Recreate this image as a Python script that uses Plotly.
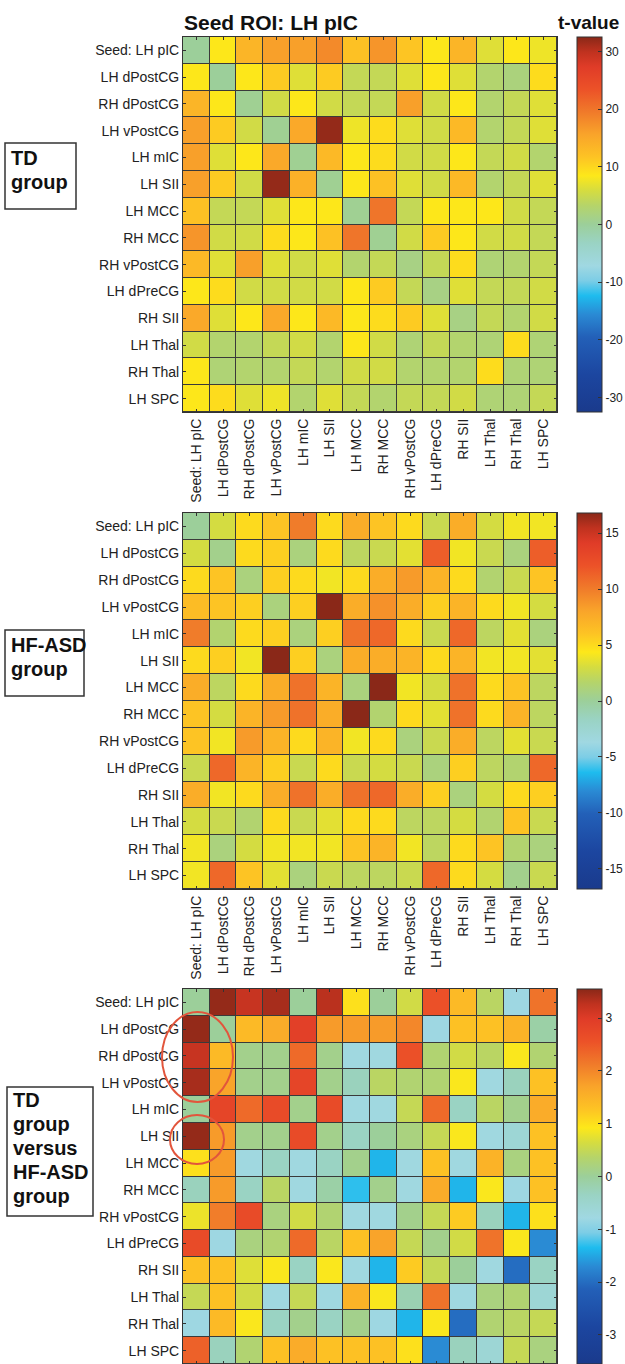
import plotly.graph_objects as go

regions = ["Seed: LH pIC", "LH dPostCG", "RH dPostCG", "LH vPostCG", "LH mIC", "LH SII",
           "LH MCC", "RH MCC", "RH vPostCG", "LH dPreCG", "RH SII", "LH Thal", "RH Thal", "LH SPC"]

td_values = [
    [0, 8.5, 13.5, 16, 16, 18, 12, 17, 11.5, 8.5, 13.5, 6.5, 8.5, 7.5],
    [8.5, 0, 8.5, 11, 6.5, 11, 4.5, 4.5, 6.5, 8.5, 6.5, 3, 2, 9.5],
    [13.5, 8.5, 0.5, 5.5, 8.5, 5.5, 4.5, 4.5, 16, 5.5, 8.5, 3, 4.5, 6.5],
    [16, 11, 5.5, 0.5, 15, 32, 7.5, 9.5, 6.5, 5.5, 13, 3, 4.5, 6.5],
    [16, 6.5, 8.5, 15, 0.5, 13, 8.5, 9.5, 5.5, 5.5, 8.5, 4.5, 5.5, 3],
    [16, 11, 5.5, 32, 14, 0.5, 8.5, 12, 6.5, 5.5, 13, 3, 4.5, 6.5],
    [12, 4.5, 4.5, 6.5, 8.5, 8.5, 0.5, 20, 4.5, 8.5, 8.5, 8.5, 5.5, 4.5],
    [17, 5.5, 5.5, 9.5, 8.5, 12, 20, 0.5, 5.5, 11, 8.5, 5.5, 5.5, 4.5],
    [13, 6.5, 16, 6.5, 5.5, 6.5, 3, 4.5, 1.5, 4.5, 9.5, 2.5, 3, 4.5],
    [8.5, 9.5, 5.5, 5.5, 5.5, 5.5, 8.5, 11, 4.5, 1.5, 6.5, 4.5, 4.5, 5.5],
    [15, 6.5, 8.5, 15, 8.5, 13, 8.5, 9.5, 11, 6.5, 1.5, 4.5, 3, 5.5],
    [5.5, 3, 3, 4.5, 5.5, 3, 8.5, 5.5, 2.5, 4.5, 3, 2.5, 9.5, 2.5],
    [8.5, 2.5, 3, 3, 4.5, 3, 5.5, 5.5, 3, 3, 3, 9.5, 2.5, 2.5],
    [8.5, 9.5, 6.5, 7.5, 3, 6.5, 4.5, 3, 4.5, 4.5, 5.5, 2.5, 2.5, 4.5],
]

asd_values = [
    [0, 3, 5, 6, 10, 5, 7.5, 6, 5, 2.5, 7.5, 3, 4, 4],
    [3, 0.5, 5, 5.5, 1, 5, 2, 2.5, 3.5, 11.5, 4, 2.5, 1, 11.5],
    [5, 6, 1, 5.5, 5, 4, 5, 7.5, 8.5, 7, 5, 1.5, 2.5, 6],
    [6.5, 6, 5.5, 1, 5.5, 17, 7.5, 9, 7.5, 5.5, 7, 5, 4, 3],
    [10, 1.5, 5, 5.5, 1, 5.5, 10.5, 11, 5, 2.5, 11, 2, 3.5, 1],
    [5, 5.5, 4, 17, 5.5, 1, 7.5, 7.5, 7, 5, 7, 4, 4, 3.5],
    [7.5, 2, 5, 7.5, 10.5, 7, 1, 17, 4, 3, 10.5, 5, 6, 2],
    [6, 3, 7, 8.5, 10.5, 7.5, 17, 1.5, 5, 3.5, 10.5, 5, 7, 2],
    [6, 4, 8.5, 7, 5, 7, 4, 5, 1, 2.5, 7.5, 2, 3.5, 2.5],
    [2.5, 11, 7, 5.5, 2.5, 5, 2.5, 3, 2.5, 1, 5.5, 2, 1.5, 11],
    [7.5, 4, 5, 7.5, 10.5, 7.5, 10.5, 11, 7.5, 5.5, 1, 3, 5, 5.5],
    [3, 2.5, 1.5, 5, 2.5, 3.5, 5, 5, 2, 2, 3, 1.5, 6, 2.5],
    [4, 1, 3, 4, 4, 4, 6, 7, 4, 2, 5, 6, 1.5, 1],
    [4, 11, 6, 3.5, 1, 2.5, 2, 2, 2.5, 11, 5, 3, 0.5, 2.5],
]

diff_values = [
    [0, 3.5, 3.2, 3.4, 0, 3.3, 1.0, 0, 0.6, 2.6, 1.4, 0.4, -0.8, 2.2],
    [3.5, 0, 1.4, 1.6, 2.9, 1.8, 1.8, 1.8, 2.0, -0.8, 1.3, 1.3, 1.5, -0.1],
    [3.2, 1.4, 0.1, 0.1, 2.3, 0.1, -0.75, -0.75, 2.6, 0.3, 0.6, 0.4, 0.9, 0.3],
    [3.4, 1.7, 0.1, 0.1, 2.8, 0.1, -0.3, 0.4, 0.3, 0.3, 0.9, -0.75, -0.3, 1.3],
    [0, 2.8, 2.3, 2.7, 0.1, 2.7, -0.75, -0.75, 0.5, 2.3, -0.35, 0.4, 0.1, 1.6],
    [3.5, 1.8, 0.1, 0.1, 2.7, 0.1, -0.35, 0, 0.2, 0.5, 0.9, -0.75, -0.6, 1.3],
    [1.0, 1.8, -0.75, -0.35, -0.75, -0.35, 0.1, -1.4, -0.75, 1.3, -0.75, 1.5, 0.2, 1.3],
    [-0.3, 1.8, -0.35, 0.4, -0.75, -0.1, -1.3, 0.1, -0.75, 1.6, -1.4, 0.9, -0.8, 1.3],
    [0.8, 2.1, 2.7, 0.2, 0.6, 0.3, -0.75, -0.75, 0.1, 0.5, 1.2, -0.3, -1.4, 1.0],
    [2.7, -0.8, 0.2, 0.3, 2.3, 0.4, 1.3, 1.7, 0.5, 0.1, 0.6, 2.2, 0.9, -1.7],
    [1.3, 1.3, 0.7, 0.9, -0.35, 0.9, -0.75, -1.4, 1.2, 0.5, 0, -0.75, -2.0, -0.35],
    [0.5, 1.3, 0.6, -0.75, 0.5, -0.75, 1.5, 0.9, -0.2, 2.2, -0.75, 0.2, 0.3, -0.6],
    [-0.8, 1.4, 0.9, -0.35, 0.1, -0.35, 0.1, -0.8, -1.4, 0.9, -2.0, 0.3, 0.4, 0.5],
    [2.4, -0.3, 0.3, 1.3, 1.6, 1.3, 1.3, 1.3, 1.0, -1.7, -0.3, -0.6, 0.5, 0.2],
]

td_ticks = [-30, -20, -10, 0, 10, 20, 30]
asd_ticks = [-15, -10, -5, 0, 5, 10, 15]
diff_ticks = [-3, -2, -1, 0, 1, 2, 3]
td_range = 32.5
asd_range = 16.8
diff_range = 3.55

title_text = "Seed ROI: LH pIC"
cbar_title = "t-value"
group_labels = [["TD", "group"], ["HF-ASD", "group"], ["TD", "group", "versus", "HF-ASD", "group"]]

# ---------------- styling ----------------
W, H = 625, 1364
FONT = "Liberation Sans, Arial, sans-serif"
colorscale = [
    [0.00, "#1a3a8c"], [0.10, "#1c46a0"], [0.20, "#2360b8"], [0.26, "#2a8ad4"],
    [0.31, "#1ebcee"], [0.35, "#7ccde6"], [0.39, "#a0d8e2"], [0.45, "#9ad3c4"],
    [0.50, "#9ccf9a"], [0.55, "#b5d46a"], [0.59, "#d5dc40"], [0.63, "#fde81a"],
    [0.68, "#fdc324"], [0.74, "#f9a42a"], [0.80, "#f07a2a"], [0.86, "#ec5228"],
    [0.92, "#e03c28"], [0.96, "#c0321f"], [1.00, "#8a2818"],
]

def px_x(v):
    return v / W

def px_y(v):
    return 1 - v / H

x_dom = [px_x(183), px_x(557)]
panels = [
    (td_values, td_range, td_ticks, (37, 412)),
    (asd_values, asd_range, asd_ticks, (513, 889)),
    (diff_values, diff_range, diff_ticks, (989, 1364)),
]

fig = go.Figure()
layout = dict(
    width=W, height=H, autosize=False,
    margin=dict(l=0, r=0, t=0, b=0, autoexpand=False),
    paper_bgcolor="white", plot_bgcolor="#3a3a3a",
    font=dict(family=FONT, size=14, color="#222"),
    showlegend=False,
)

for i, (vals, rng, ticks, (top, bot)) in enumerate(panels):
    n = i + 1
    xa = "x" if n == 1 else f"x{n}"
    ya = "y" if n == 1 else f"y{n}"
    y_dom = [px_y(bot), px_y(top)]
    fig.add_trace(go.Heatmap(
        z=vals, x=regions, y=regions, xaxis=xa, yaxis=ya,
        zmin=-rng, zmax=rng, colorscale=colorscale,
        xgap=1, ygap=1, hoverinfo="skip",
        colorbar=dict(
            x=px_x(577), xanchor="left", xpad=0, ypad=0,
            y=(y_dom[0] + y_dom[1]) / 2, yanchor="middle",
            len=y_dom[1] - y_dom[0], lenmode="fraction",
            thickness=25, thicknessmode="pixels",
            outlinewidth=1, outlinecolor="#333",
            tickvals=ticks, ticktext=[str(t) for t in ticks],
            ticks="inside", ticklen=4, tickcolor="#333",
            tickfont=dict(family=FONT, size=12, color="#222"),
        ),
    ))
    axis_common = dict(
        type="category", showline=True, linecolor="#333", linewidth=1,
        mirror="ticks", ticks="inside", ticklen=3, tickcolor="#333",
        showgrid=False, zeroline=False, fixedrange=True, automargin=False,
        tickfont=dict(family=FONT, size=14, color="#222"),
    )
    xkey = "xaxis" if n == 1 else f"xaxis{n}"
    ykey = "yaxis" if n == 1 else f"yaxis{n}"
    layout[xkey] = dict(axis_common, domain=x_dom, anchor=ya, tickangle=-90,
                        showticklabels=(n != 3))
    layout[ykey] = dict(axis_common, domain=y_dom, anchor=xa, autorange="reversed")

annotations = [
    dict(text=f"<b>{title_text}</b>", x=px_x(182), y=px_y(23), xref="paper", yref="paper",
         xanchor="left", yanchor="middle", showarrow=False,
         font=dict(family=FONT, size=21, color="#111")),
    dict(text=f"<b>{cbar_title}</b>", x=px_x(556), y=px_y(23), xref="paper", yref="paper",
         xanchor="left", yanchor="middle", showarrow=False,
         font=dict(family=FONT, size=19, color="#111")),
]

boxes = [(5, 143, 76, 209), (5, 630, 84, 696), (7, 1087, 93, 1216)]
line_starts = [158, 645, 1100]
shapes = []
for (x0, y0, x1, y1), lines, ys in zip(boxes, group_labels, line_starts):
    shapes.append(dict(type="rect", xref="paper", yref="paper",
                       x0=px_x(x0), x1=px_x(x1), y0=px_y(y1), y1=px_y(y0),
                       line=dict(color="#333", width=1.5), fillcolor="rgba(0,0,0,0)"))
    for k, t in enumerate(lines):
        annotations.append(dict(text=f"<b>{t}</b>", x=px_x(x0 + 4), y=px_y(ys + 24 * k),
                                xref="paper", yref="paper", xanchor="left", yanchor="middle",
                                showarrow=False, font=dict(family=FONT, size=20, color="#111")))

ellipses = [(162, 1012, 233, 1102), (170, 1115, 224, 1164)]
for (x0, y0, x1, y1) in ellipses:
    shapes.append(dict(type="circle", xref="paper", yref="paper",
                       x0=px_x(x0), x1=px_x(x1), y0=px_y(y1), y1=px_y(y0),
                       line=dict(color="#e2553c", width=2)))

layout["annotations"] = annotations
layout["shapes"] = shapes
fig.update_layout(**layout)
fig.write_html("out.html", config={"displayModeBar": False},
               post_script="document.body.style.margin='0px';document.body.style.overflow='hidden';")
